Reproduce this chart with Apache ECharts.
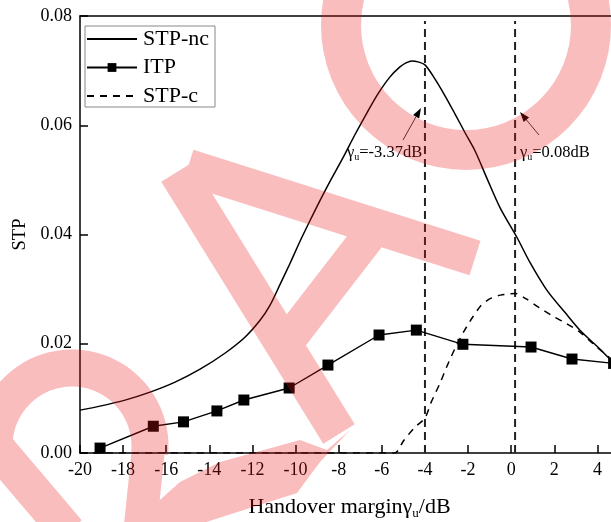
<!DOCTYPE html>
<html><head><meta charset="utf-8">
<script src="https://cdn.jsdelivr.net/npm/echarts@6/dist/echarts.min.js"></script>
<style>html,body{margin:0;padding:0;overflow:hidden;background:#fff}#c{width:620px;height:522px}</style>
</head><body><div id="c"></div><script>
// ---- data ----
const seriesNames = ['STP-nc', 'ITP', 'STP-c'];
const ncX = [-20,-19.07,-17.91,-16.75,-15.59,-14.43,-13.28,-12.35,-11.65,-11.19,-10.72,-10.26,-9.8,-9.33,-8.87,-8.41,-7.8,-7.25,-6.69,-6.18,-5.62,-5.16,-4.88,-4.6,-4.32,-4.0,-3.54,-3.07,-2.61,-2.14,-1.68,-1.12,-0.52,0.27,0.87,1.66,2.49,3.19,3.98,4.63,5.04];
const ncY = [0.00785,0.00858,0.00968,0.01114,0.01297,0.01534,0.01826,0.02119,0.02429,0.02703,0.03087,0.0347,0.03872,0.04256,0.04621,0.04968,0.05406,0.05826,0.06228,0.06575,0.06886,0.07068,0.07142,0.07178,0.0716,0.07105,0.06849,0.06539,0.0621,0.05863,0.05534,0.05023,0.04493,0.03945,0.03489,0.02977,0.02575,0.02247,0.01954,0.01699,0.01571];
const itpX = [-19.07,-16.6,-15.2,-13.65,-12.4,-10.3,-8.5,-6.13,-4.4,-2.24,0.92,2.82,4.75];
const itpY = [0.0009,0.0049,0.0057,0.0077,0.0097,0.0119,0.0161,0.0216,0.0225,0.0199,0.0194,0.0172,0.0164];
const cX = [-20,-16,-12,-8,-5.4,-5,-4.5,-4,-3.7,-3.3,-3,-2.6,-2.2,-1.8,-1.4,-1,-0.5,0.2,0.7,1.3,2,2.6,3.2,3.8,4.7];
const cY = [0,0,0,0,0,0.0022,0.0046,0.0064,0.0094,0.0128,0.0157,0.0192,0.0222,0.0248,0.0270,0.0282,0.0289,0.0292,0.0282,0.0266,0.0249,0.0236,0.0221,0.0200,0.0170];
const refX = [-4, 0.18];
const refTop = 0.0791;
const xMin = -20, xMax = 5, xStep = 2;
const yMin = 0, yMax = 0.08, yStep = 0.02;

const zip = (a, b) => a.map((v, i) => [v, b[i]]);
const FONT = 'Liberation Serif';

// ---- watermark (decoration, screen space), drawn opaque then blended once ----
function band(x1, y1, x2, y2, w) {
  const L = Math.hypot(x2 - x1, y2 - y1), dx = (x2 - x1) / L, dy = (y2 - y1) / L;
  const nx = -dy * w / 2, ny = dx * w / 2;
  return [[x1 + nx, y1 + ny], [x2 + nx, y2 + ny], [x2 - nx, y2 - ny], [x1 - nx, y1 - ny]];
}
function arcBand(cx, cy, r, w, a0, a1) {
  const pts = [], N = 48, ro = r + w / 2, ri = r - w / 2;
  for (let i = 0; i <= N; i++) { const a = a0 + (a1 - a0) * i / N; pts.push([cx + ro * Math.cos(a), cy + ro * Math.sin(a)]); }
  for (let i = N; i >= 0; i--) { const a = a0 + (a1 - a0) * i / N; pts.push([cx + ri * Math.cos(a), cy + ri * Math.sin(a)]); }
  return pts;
}
const wmPolys = [
  band(177, 172, 339, 434, 37),
  band(188, 167, 475, 258, 36),
  band(290, 338, 368, 237, 34),
  [[133, 524], [180, 482], [220, 462], [300, 440], [327, 450], [350, 430], [320, 462], [297, 493], [200, 524]],
  arcBand(72, 446, 78, 37, Math.PI * 0.95, Math.PI * 2.03),
  band(148, 453, 140, 530, 33),
  band(-10, 440, 68, 532, 36)
];
const wm = document.createElement('canvas');
wm.width = 620; wm.height = 522;
const g = wm.getContext('2d');
g.fillStyle = 'rgb(235,20,20)'; g.strokeStyle = 'rgb(235,20,20)';
wmPolys.forEach(p => { g.beginPath(); p.forEach((q, i) => i ? g.lineTo(q[0], q[1]) : g.moveTo(q[0], q[1])); g.closePath(); g.fill(); });
g.lineWidth = 40; g.beginPath(); g.arc(466, 25, 125, 0, Math.PI * 2); g.stroke();

const chart = echarts.init(document.getElementById('c'), null, {renderer: 'canvas'});
const refSeries = refX.map(x => ({
  type: 'line', silent: true, symbol: 'none', z: 1,
  data: [[x, 0], [x, refTop]],
  lineStyle: {color: '#222', width: 2, type: [8, 5]}
}));

chart.setOption({
  animation: false,
  grid: {left: 80, top: 16, right: 1, bottom: 69, outerBoundsMode: 'none', containLabel: false},
  legend: {
    data: [
      {name: seriesNames[0], itemStyle: {opacity: 0}},
      {name: seriesNames[1]},
      {name: seriesNames[2], itemStyle: {opacity: 0}}
    ],
    left: 85, top: 26, orient: 'vertical',
    padding: [2, 6, 0, 1], itemGap: 6.5, itemWidth: 50, itemHeight: 11,
    borderColor: '#888', borderWidth: 1,
    textStyle: {fontFamily: FONT, fontSize: 22, lineHeight: 22, color: '#000', padding: [0, 0, 0, 1]}
  },
  xAxis: [{
    type: 'value', min: xMin, max: xMax, interval: xStep,
    splitLine: {show: false},
    axisLine: {onZero: false, lineStyle: {color: '#000', width: 1.5}},
    axisTick: {inside: true, length: 8, lineStyle: {color: '#000', width: 1.5}},
    axisLabel: {fontFamily: FONT, fontSize: 18, color: '#000', margin: 8, showMaxLabel: false},
    name: '{a|Handover margin}{a|γ}{s|u}{a|/dB}',
    nameLocation: 'middle', nameGap: 42,
    nameTextStyle: {rich: {
      a: {fontFamily: FONT, fontSize: 22, color: '#000'},
      s: {fontFamily: FONT, fontSize: 13, color: '#000', padding: [12, 0, 0, 0]}
    }}
  }, {
    type: 'value', min: xMin, max: xMax, position: 'top',
    splitLine: {show: false}, axisTick: {show: false}, axisLabel: {show: false},
    axisLine: {onZero: false, lineStyle: {color: '#000', width: 1.5}}
  }],
  yAxis: {
    type: 'value', min: yMin, max: yMax, interval: yStep,
    splitLine: {show: false},
    axisLine: {show: true, onZero: false, lineStyle: {color: '#000', width: 1.5}},
    axisTick: {show: true, inside: true, length: 8, lineStyle: {color: '#000', width: 1.5}},
    axisLabel: {fontFamily: FONT, fontSize: 18, color: '#000', margin: 8, formatter: v => v.toFixed(2)},
    name: 'STP', nameLocation: 'middle', nameGap: 46,
    nameTextStyle: {fontFamily: FONT, fontSize: 18.5, color: '#000'}
  },
  series: [
    {name: seriesNames[0], type: 'line', data: zip(ncX, ncY), symbol: 'none', smooth: 0.3,
     lineStyle: {color: '#000', width: 1.5}, itemStyle: {color: '#000'}},
    {name: seriesNames[1], type: 'line', data: zip(itpX, itpY), symbol: 'rect', symbolSize: 11,
     lineStyle: {color: '#000', width: 1.4}, itemStyle: {color: '#000'}},
    {name: seriesNames[2], type: 'line', data: zip(cX, cY), symbol: 'none', smooth: 0.25,
     lineStyle: {color: '#000', width: 1.5, type: [7, 6]}, itemStyle: {color: '#000'}}
  ].concat(refSeries),
  graphic: [
    {type: 'text', left: 347, top: 144, z: 50, style: {
      text: '{a|γ}{s|u}{a|=-3.37dB}',
      rich: {a: {fontFamily: FONT, fontSize: 16.5, fill: '#000'}, s: {fontFamily: FONT, fontSize: 10, fill: '#000', padding: [9, 0, 0, 0]}}
    }},
    {type: 'line', z: 50, shape: {x1: 403, y1: 140, x2: 417, y2: 115}, style: {stroke: '#000', lineWidth: 0.8}},
    {type: 'polygon', z: 50, shape: {points: [[421, 108], [419.2, 118.4], [413.1, 115]]}, style: {fill: '#000'}},
    {type: 'text', left: 520, top: 144, z: 50, style: {
      text: '{a|γ}{s|u}{a|=0.08dB}',
      rich: {a: {fontFamily: FONT, fontSize: 16.5, fill: '#000'}, s: {fontFamily: FONT, fontSize: 10, fill: '#000', padding: [9, 0, 0, 0]}}
    }},
    {type: 'line', z: 50, shape: {x1: 539, y1: 135, x2: 524, y2: 117}, style: {stroke: '#000', lineWidth: 0.8}},
    {type: 'polygon', z: 50, shape: {points: [[520, 112], [529.1, 117.5], [523.7, 121.9]]}, style: {fill: '#000'}},
    {type: 'image', z: 100, silent: true, left: 0, top: 0,
     style: {image: wm, x: 0, y: 0, width: 620, height: 522, opacity: 0.28}}
  ]
});
</script></body></html>
